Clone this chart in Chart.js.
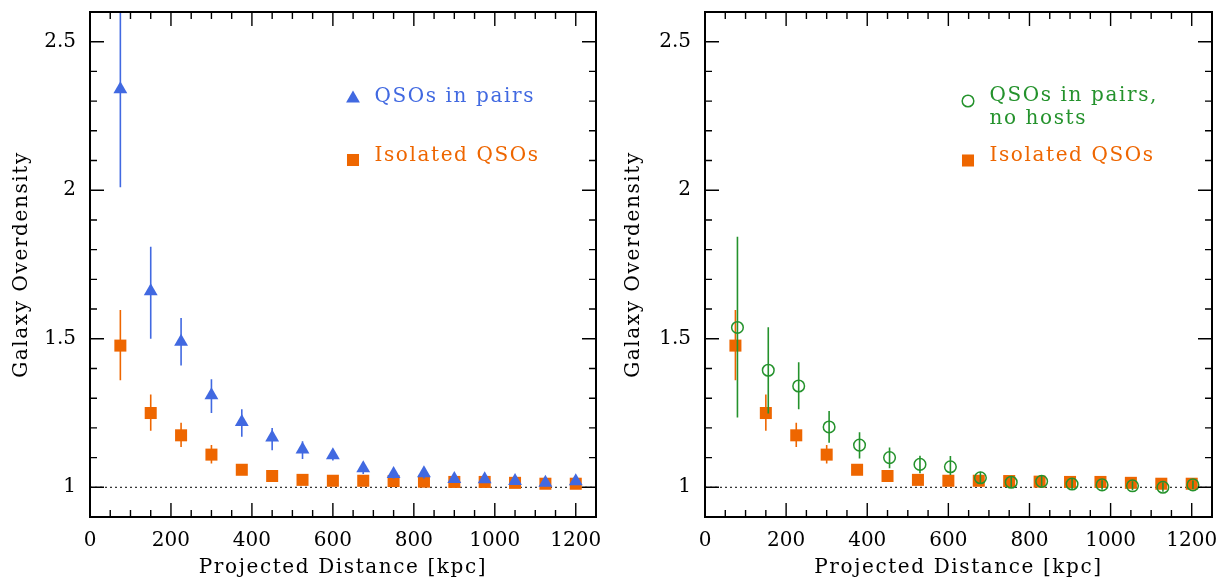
<!DOCTYPE html>
<html>
<head>
<meta charset="utf-8">
<script src="https://cdn.jsdelivr.net/npm/chart.js@4.4.1/dist/chart.umd.min.js"></script>
<style>
  html, body { margin: 0; padding: 0; background: #fff; }
  .panel { position: absolute; top: 0; height: 578px; }
  #left { left: 0; width: 612px; }
  #right { left: 612px; width: 611px; }
</style>
</head>
<body>
<div class="panel" id="left"><canvas id="chartLeft"></canvas></div>
<div class="panel" id="right"><canvas id="chartRight"></canvas></div>
<script>
// values
const distances = [75, 150, 225, 300, 375, 450, 525, 600, 675, 750, 825, 900, 975, 1050, 1125, 1200];

const pairs   = [2.34, 1.66, 1.49, 1.31, 1.22, 1.168, 1.127, 1.108, 1.064, 1.045, 1.047, 1.028, 1.027, 1.021, 1.015, 1.02];
const pairsLo = [2.01, 1.50, 1.41, 1.25, 1.17, 1.125, 1.095, 1.09, 1.045, 1.03, 1.03, 1.015, 1.015, 1.008, 1.003, 1.008];
const pairsHi = [2.75, 1.81, 1.57, 1.364, 1.263, 1.20, 1.155, 1.128, 1.085, 1.06, 1.063, 1.042, 1.04, 1.035, 1.028, 1.032];

const isolated = [1.477, 1.25, 1.175, 1.11, 1.059, 1.038, 1.025, 1.022, 1.022, 1.021, 1.019, 1.018, 1.018, 1.015, 1.012, 1.012];
const isoLo    = [1.36, 1.19, 1.136, 1.08, 1.045, 1.027, 1.015, 1.013, 1.013, 1.012, 1.01, 1.01, 1.01, 1.007, 1.004, 1.004];
const isoHi    = [1.597, 1.312, 1.217, 1.142, 1.073, 1.05, 1.036, 1.031, 1.031, 1.03, 1.028, 1.026, 1.026, 1.023, 1.02, 1.02];

const noHostDist = [80, 156, 231, 306, 381, 455, 530, 605, 679, 755, 830, 905, 979, 1054, 1129, 1203];
const noHost   = [1.538, 1.394, 1.341, 1.203, 1.142, 1.10, 1.077, 1.069, 1.032, 1.017, 1.02, 1.011, 1.008, 1.005, 1.0, 1.008];
const noHostLo = [1.235, 1.248, 1.263, 1.15, 1.097, 1.064, 1.047, 1.041, 1.012, 0.998, 1.002, 0.994, 0.992, 0.99, 0.985, 0.993];
const noHostHi = [1.843, 1.539, 1.421, 1.257, 1.185, 1.134, 1.106, 1.105, 1.052, 1.036, 1.038, 1.028, 1.024, 1.02, 1.016, 1.023];

const refLevel = 1;
const xTicks = [0, 200, 400, 600, 800, 1000, 1200];
const yTicks = [1, 1.5, 2, 2.5];

const xTitle = 'Projected Distance [kpc]';
const yTitle = 'Galaxy Overdensity';
const leftLegend = [['QSOs in pairs'], ['Isolated QSOs']];
const rightLegend = [['QSOs in pairs,', 'no hosts'], ['Isolated QSOs']];

const BLUE = '#4169e1';
const ORANGE = '#ee6600';
const GREEN = '#24922c';
const FONT = 'DejaVu Serif';
const TEXT_SPACING = '1.6px';

function points(xs, ys) {
  return xs.map((x, i) => ({ x: x, y: ys[i] }));
}

// vertical error bars, drawn just before each dataset's markers
const errorBars = {
  id: 'errorBars',
  beforeDatasetDraw(chart, args) {
    const ds = chart.data.datasets[args.index];
    if (!ds.errLo) return;
    const { ctx, chartArea: a, scales: { x, y } } = chart;
    ctx.save();
    ctx.beginPath();
    ctx.rect(a.left, a.top, a.right - a.left, a.bottom - a.top);
    ctx.clip();
    ctx.strokeStyle = ds.borderColor;
    ctx.lineWidth = 1.6;
    ctx.beginPath();
    ds.data.forEach((p, i) => {
      const px = x.getPixelForValue(p.x);
      ctx.moveTo(px, y.getPixelForValue(ds.errLo[i]));
      ctx.lineTo(px, y.getPixelForValue(ds.errHi[i]));
    });
    ctx.stroke();
    ctx.restore();
  }
};

// box with inward ticks on all four sides, plus the axis titles
const axisFrame = {
  id: 'axisFrame',
  afterDraw(chart) {
    const { ctx, chartArea: a, scales: { x, y } } = chart;
    ctx.save();
    ctx.strokeStyle = '#000';
    ctx.lineWidth = 1.4;
    ctx.beginPath();
    for (let v = 0; v <= 1250; v += 50) {
      const px = x.getPixelForValue(v);
      const len = v % 200 === 0 ? 14 : 7;
      ctx.moveTo(px, a.bottom); ctx.lineTo(px, a.bottom - len);
      ctx.moveTo(px, a.top); ctx.lineTo(px, a.top + len);
    }
    for (let i = 9; i <= 26; i++) {
      const py = y.getPixelForValue(i / 10);
      const len = i % 5 === 0 ? 14 : 7;
      ctx.moveTo(a.left, py); ctx.lineTo(a.left + len, py);
      ctx.moveTo(a.right, py); ctx.lineTo(a.right - len, py);
    }
    ctx.stroke();
    ctx.lineWidth = 2;
    ctx.strokeRect(a.left, a.top, a.right - a.left, a.bottom - a.top);

    ctx.fillStyle = '#000';
    ctx.font = '20px "' + FONT + '"';
    ctx.letterSpacing = TEXT_SPACING;
    ctx.textAlign = 'center';
    ctx.textBaseline = 'alphabetic';
    ctx.fillText(xTitle, (a.left + a.right) / 2, 573);
    ctx.translate(27, (a.top + a.bottom) / 2);
    ctx.rotate(-Math.PI / 2);
    ctx.fillText(yTitle, 0, 0);
    ctx.restore();
  }
};

// legend placed inside the plot
const qsoLegend = {
  id: 'qsoLegend',
  afterDraw(chart, args, opts) {
    if (!opts.items) return;
    const { ctx, chartArea: a } = chart;
    const mx = a.left + 263;
    ctx.save();
    ctx.font = '20px "' + FONT + '"';
    ctx.letterSpacing = TEXT_SPACING;
    ctx.textBaseline = 'alphabetic';
    ctx.textAlign = 'left';
    opts.items.forEach(item => {
      const ds = chart.data.datasets[item.dataset];
      const r = ds.pointRadius;
      const cy = item.markerY;
      ctx.fillStyle = ds.borderColor;
      ctx.strokeStyle = ds.borderColor;
      ctx.lineWidth = ds.borderWidth;
      ctx.beginPath();
      if (ds.pointStyle === 'triangle') {
        ctx.moveTo(mx, cy - r);
        ctx.lineTo(mx + r * 0.866, cy + r / 2);
        ctx.lineTo(mx - r * 0.866, cy + r / 2);
        ctx.closePath();
        ctx.fill();
      } else if (ds.pointStyle === 'rect') {
        const s = r * Math.SQRT1_2;
        ctx.fillRect(mx - s, cy - s, 2 * s, 2 * s);
      } else {
        ctx.arc(mx, cy, r, 0, Math.PI * 2);
        ctx.stroke();
      }
      item.lines.forEach((t, k) => {
        ctx.fillText(t, a.left + 284.5, item.baseY + k * 23.6);
      });
    });
    ctx.restore();
  }
};

function makeOptions(yAxisWidth, padRight, legendItems) {
  return {
    responsive: true,
    maintainAspectRatio: false,
    animation: false,
    devicePixelRatio: 1,
    layout: { autoPadding: false, padding: { top: 12, right: padRight, bottom: 0, left: 0 } },
    scales: {
      x: {
        type: 'linear', min: 0, max: 1250,
        afterBuildTicks: s => { s.ticks = xTicks.map(v => ({ value: v })); },
        afterFit: s => { s.height = 61; s.paddingLeft = 0; s.paddingRight = 0; },
        grid: { display: false, drawTicks: false },
        border: { display: false },
        ticks: { color: '#000', font: { family: FONT, size: 20 }, padding: 12, maxRotation: 0, autoSkip: false,
                 callback: v => String(v) }
      },
      y: {
        type: 'linear', min: 0.9, max: 2.6,
        afterBuildTicks: s => { s.ticks = yTicks.map(v => ({ value: v })); },
        afterFit: s => { s.width = yAxisWidth; s.paddingTop = 0; s.paddingBottom = 0; },
        grid: { display: false, drawTicks: false },
        border: { display: false },
        ticks: { color: '#000', font: { family: FONT, size: 20 }, padding: 14, autoSkip: false,
                 callback: v => String(v) }
      }
    },
    plugins: {
      legend: { display: false },
      tooltip: { enabled: false },
      qsoLegend: { items: legendItems }
    }
  };
}

const refLine = {
  type: 'line',
  data: [{ x: 0, y: refLevel }, { x: 1250, y: refLevel }],
  borderColor: '#000', borderWidth: 1, borderDash: [2, 3],
  pointRadius: 0, order: 5
};

const isolatedSet = {
  type: 'scatter', label: 'Isolated QSOs',
  data: points(distances, isolated), errLo: isoLo, errHi: isoHi,
  pointStyle: 'rect', pointRadius: 8.5, borderWidth: 0,
  backgroundColor: ORANGE, borderColor: ORANGE, order: 2
};

new Chart(document.getElementById('chartLeft'), {
  data: {
    datasets: [
      refLine,
      isolatedSet,
      {
        type: 'scatter', label: 'QSOs in pairs',
        data: points(distances, pairs), errLo: pairsLo, errHi: pairsHi,
        pointStyle: 'triangle', pointRadius: 8, borderWidth: 0,
        backgroundColor: BLUE, borderColor: BLUE, order: 1
      }
    ]
  },
  options: makeOptions(90, 16, [
    { dataset: 2, lines: leftLegend[0], markerY: 98.5, baseY: 101.7 },
    { dataset: 1, lines: leftLegend[1], markerY: 160, baseY: 160.7 }
  ]),
  plugins: [errorBars, axisFrame, qsoLegend]
});

new Chart(document.getElementById('chartRight'), {
  data: {
    datasets: [
      Object.assign({}, refLine),
      Object.assign({}, isolatedSet),
      {
        type: 'scatter', label: 'QSOs in pairs, no hosts',
        data: points(noHostDist, noHost), errLo: noHostLo, errHi: noHostHi,
        pointStyle: 'circle', pointRadius: 5.8, borderWidth: 1.5,
        backgroundColor: 'rgba(0,0,0,0)', borderColor: GREEN, order: 1
      }
    ]
  },
  options: makeOptions(93, 11, [
    { dataset: 2, lines: rightLegend[0], markerY: 101, baseY: 100.7 },
    { dataset: 1, lines: rightLegend[1], markerY: 160.5, baseY: 160.7 }
  ]),
  plugins: [errorBars, axisFrame, qsoLegend]
});
</script>
</body>
</html>
